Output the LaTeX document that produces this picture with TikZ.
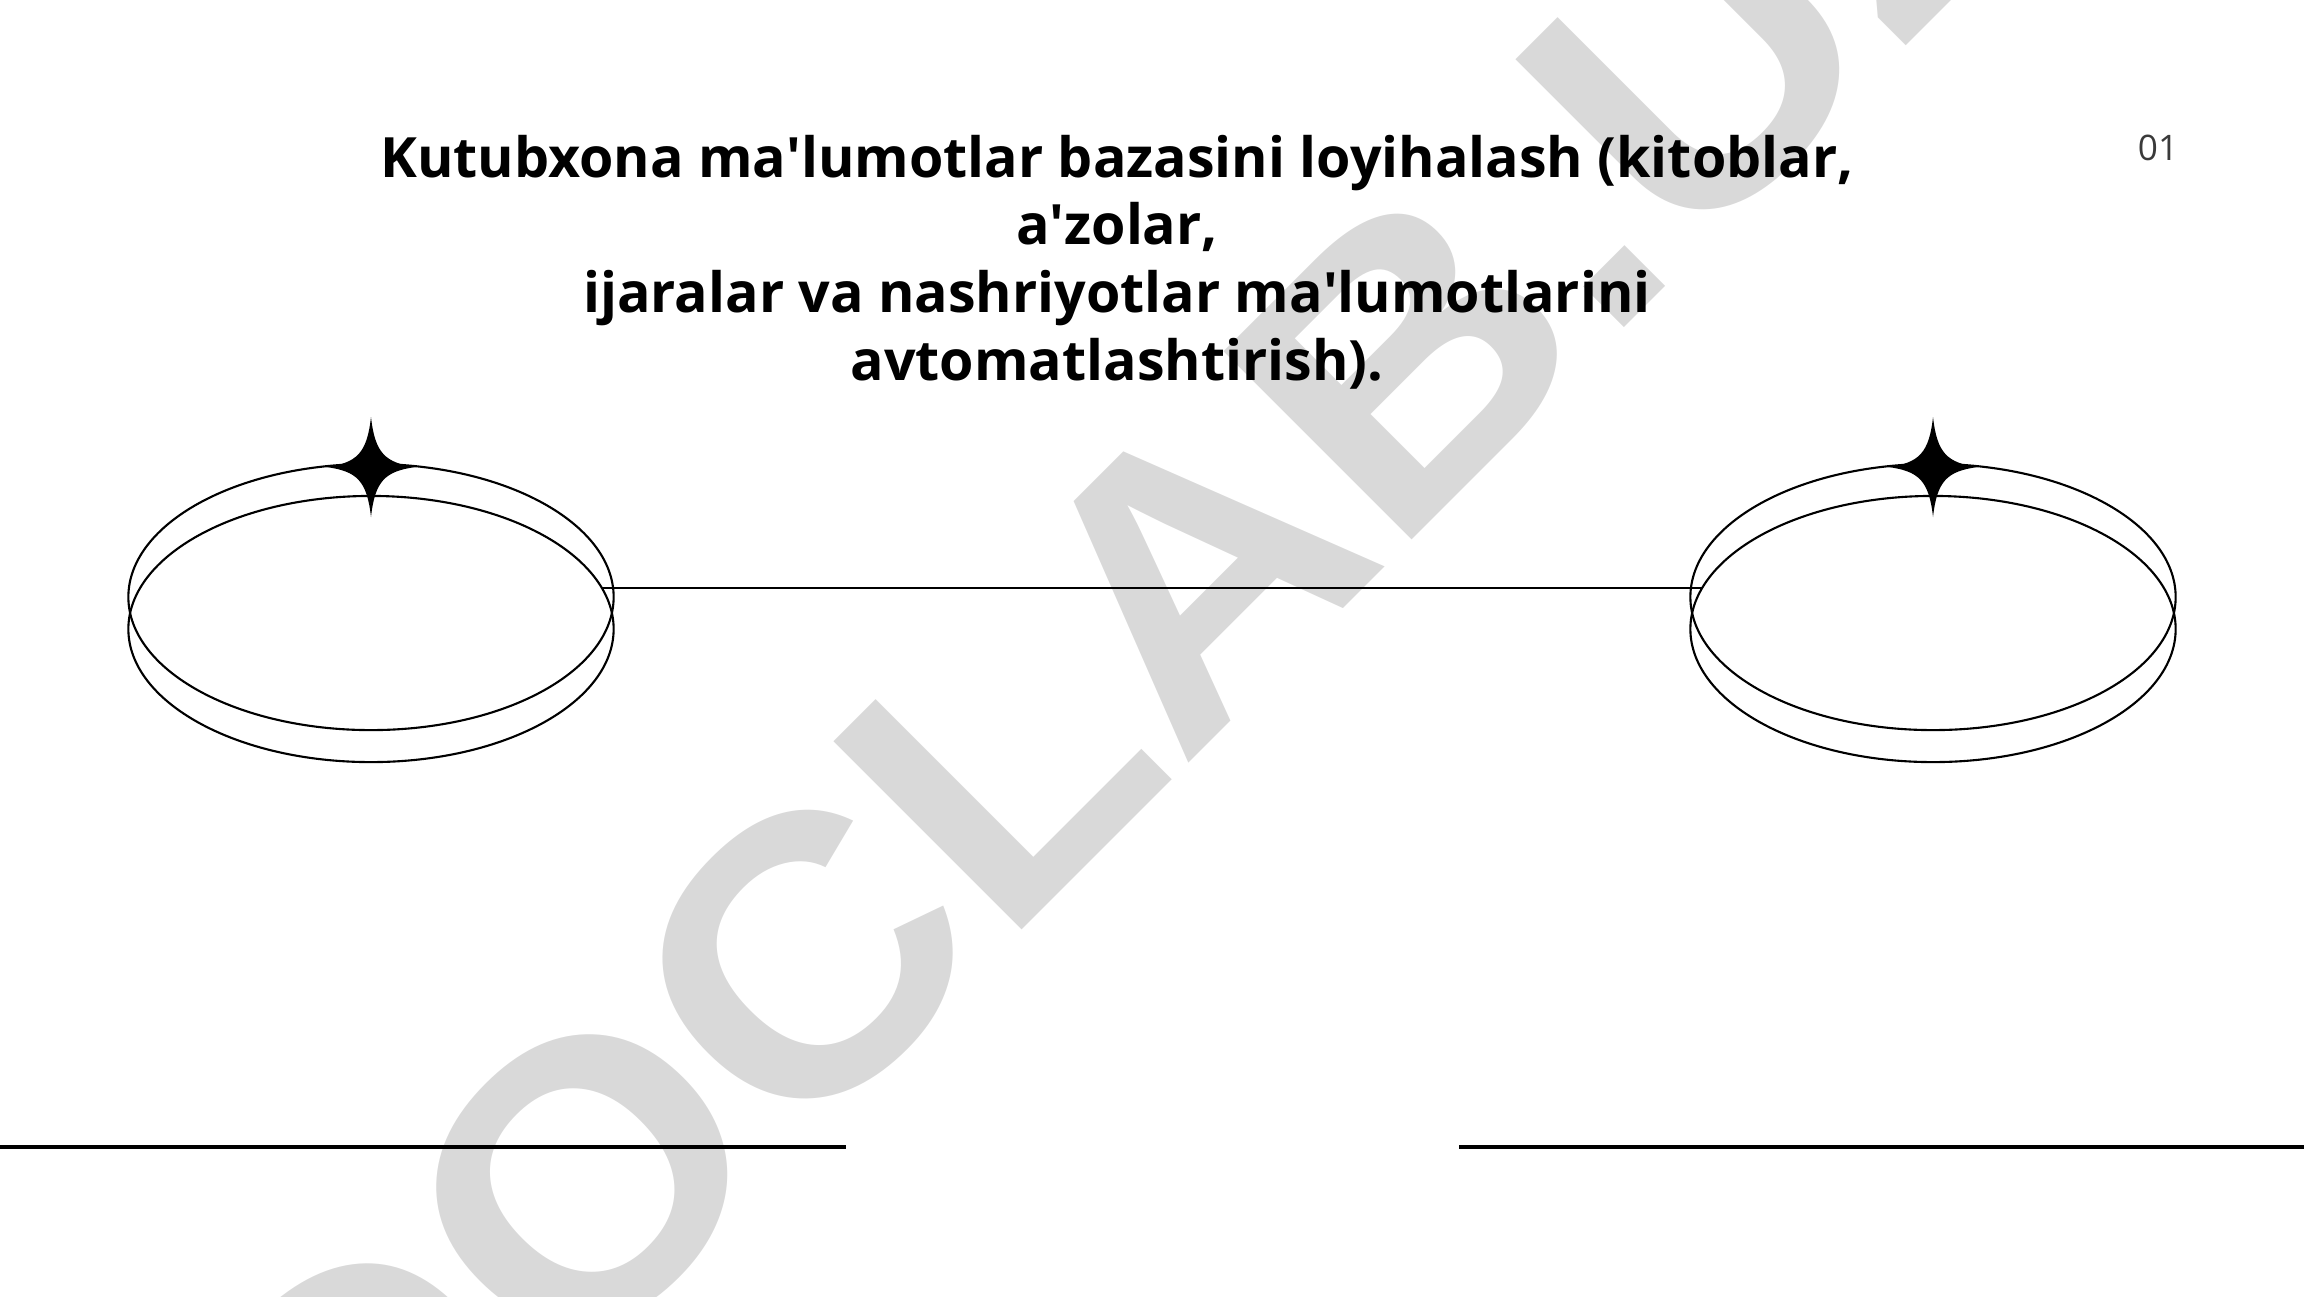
\documentclass[tikz,border=0pt]{standalone}
\usepackage{fontspec}
\setmainfont{Open Sans}
\newfontfamily\wmfont{Liberation Sans}
\usepackage{tikz}
\usetikzlibrary{shapes.geometric}
\definecolor{wmgray}{HTML}{D9D9D9}
\definecolor{numgray}{HTML}{3A3A3A}
\newcommand{\apo}{\textquotesingle}

\begin{document}
\begin{tikzpicture}[
x=0.01cm, y=-0.01cm,
  ring/.style = {ellipse, draw, line width=0.6pt,% styles of the two rims
                minimum width=4.85cm, minimum height=2.66cm,
                inner sep=0pt, outer sep=0pt},
  rule/.style = {line width=0.6pt},
 wmark/.style = {text=wmgray, inner sep=0pt, rotate=45, xscale=1.07,
                font=\wmfont\bfseries\fontsize{110}{110}\selectfont},
 title/.style = {align=center, inner sep=0pt,
                font=\bfseries\fontsize{15.8}{19.2}\selectfont},
 sparkle/.pic = {\fill (0,-50) .. controls (4,-14) and (14,-4) .. (45,0)
                .. controls (14,4) and (4,14) .. (0,50)
                .. controls (-4,14) and (-14,4) .. (-45,0)
                .. controls (-14,-4) and (-4,-14) .. (0,-50) -- cycle;},
                        ]
\useasboundingbox (0,0) rectangle (2304,1296);
\clip (0,0) rectangle (2304,1296);
% watermark
\node[wmark, anchor=base east] (wmA) at (1686,266) {DOCLAB.};
\node[wmark, anchor=base west] (wmB) at (1686,266) {UZ};
\node[title] (title) at (1117,262)
    {Kutubxona ma\apo lumotlar bazasini loyihalash (kitoblar,\\
     a\apo zolar,\\ ijaralar va nashriyotlar ma\apo lumotlarini\\
     avtomatlashtirish).};
\node[text=numgray, font=\fontsize{10}{12}\selectfont] (pageno) at (2158,148) {01};
\foreach \x/\s in {371/L,1933/R}{% <-- two rims with a sparkle
    \node[ring] (ring\s A) at (\x,597) {};
    \node[ring] (ring\s B) at (\x,629) {};
    \pic at (\x,467) {sparkle};
}
\draw[rule] (ringLB.10) -- (ringRB.170);
\draw[rule, line width=0.9pt] (0,1147) -- (846,1147) (1459,1147) -- (2304,1147);
\end{tikzpicture}
\end{document}
